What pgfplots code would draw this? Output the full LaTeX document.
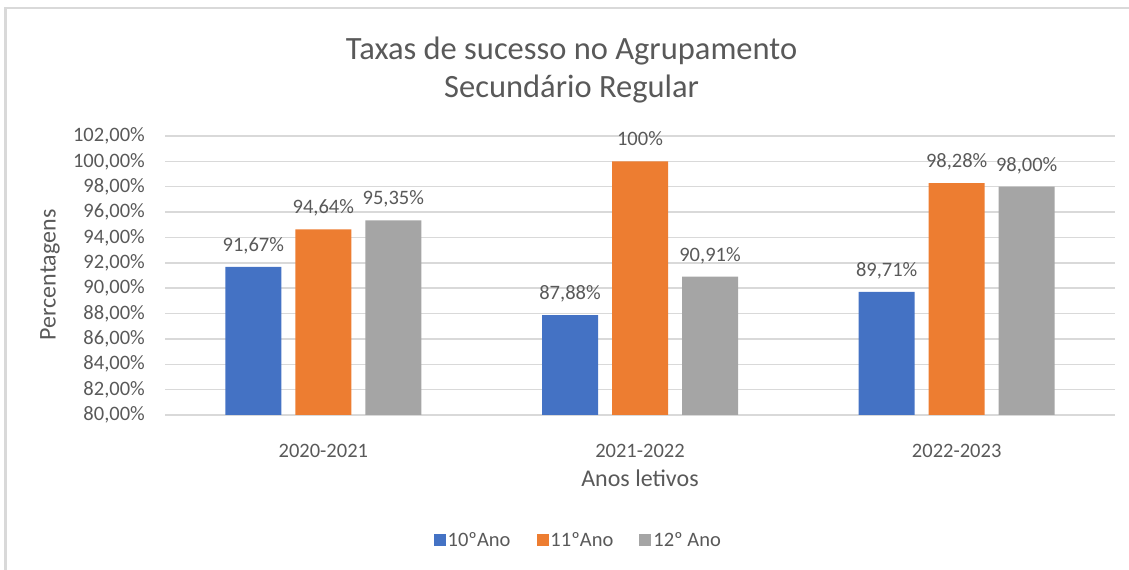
\documentclass[border=0pt]{standalone}
\usepackage{fontspec}
\setmainfont{Carlito}
\usepackage{pgfplots}
\pgfplotsset{compat=1.18}
\definecolor{txt}{HTML}{595959}
\definecolor{gridc}{HTML}{D9D9D9}
\definecolor{c10}{HTML}{4472C4}
\definecolor{c11}{HTML}{ED7D31}
\definecolor{c12}{HTML}{A5A5A5}
\newcommand{\lbl}{\fontsize{20.5bp}{24bp}\selectfont}
\newcommand{\axl}{\fontsize{24bp}{28bp}\selectfont}

\begin{document}
\begin{tikzpicture}[x=1bp,y=1bp]
\useasboundingbox (0,0) rectangle (1129,570);
\draw[draw=gridc, line width=2.5bp] (5.5,0) -- (5.5,562) -- (1129,562);
\begin{axis}[
    at={(165bp,155bp)}, anchor=south west,
    scale only axis, width=950bp, height=279bp,
    ybar, bar width=56bp,
    xmin=-0.5, xmax=2.5, ymin=80, ymax=102,
    xtick={0,1,2},
    xticklabels={2020-2021,2021-2022,2022-2023},
    ytick={80,82,...,102},
    yticklabel={\pgfmathprintnumber[fixed,fixed zerofill,precision=2,use comma,assume math mode=true]{\tick}\%},
    axis line style={draw=none},
    tick style={draw=none},
    ymajorgrids=true,
    grid style={draw=gridc, line width=1.4bp},
    tick label style={font=\lbl, text=txt},
    yticklabel style={anchor=east, inner sep=0pt, xshift=-20bp},
    xticklabel style={anchor=base, inner sep=0pt, yshift=-38.5bp},
    title={Taxas de sucesso no Agrupamento\\Secundário Regular},
    title style={at={(0.428,1.215)}, anchor=center, align=center,
        font=\fontsize{32.5bp}{38bp}\selectfont, text=txt},
    xlabel={Anos letivos},
    xlabel style={at={(0.5,-0.226)}, anchor=center, font=\axl, text=txt},
    ylabel={Percentagens},
    ylabel style={at={(-0.121,0.502)}, anchor=center, font=\axl, text=txt},
    point meta=explicit symbolic,
    nodes near coords={\pgfplotspointmeta},
    every node near coord/.append style={font=\lbl, text=txt, anchor=base, yshift=15.5bp},
    legend columns=3,
    legend style={at={(0.435,-0.448)}, anchor=center, draw=none, font=\lbl, text=txt,
        /tikz/every even column/.append style={column sep=24bp}},
    legend image code/.code={\fill[#1] (0bp,-6bp) rectangle (12bp,6bp);},
]
\addplot[fill=c10, draw=none, bar shift=-70bp] coordinates {
    (0,91.67) [91,67\%]
    (1,87.88) [87,88\%]
    (2,89.71) [89,71\%]
};
\addlegendentry{10ºAno}
\addplot[fill=c11, draw=none, bar shift=0bp] coordinates {
    (0,94.64) [94,64\%]
    (1,100.00) [100\%]
    (2,98.28) [98,28\%]
};
\addlegendentry{11ºAno}
\addplot[fill=c12, draw=none, bar shift=70bp] coordinates {
    (0,95.35) [95,35\%]
    (1,90.91) [90,91\%]
    (2,98.00) [98,00\%]
};
\addlegendentry{12º Ano}
\end{axis}
\end{tikzpicture}
\end{document}
